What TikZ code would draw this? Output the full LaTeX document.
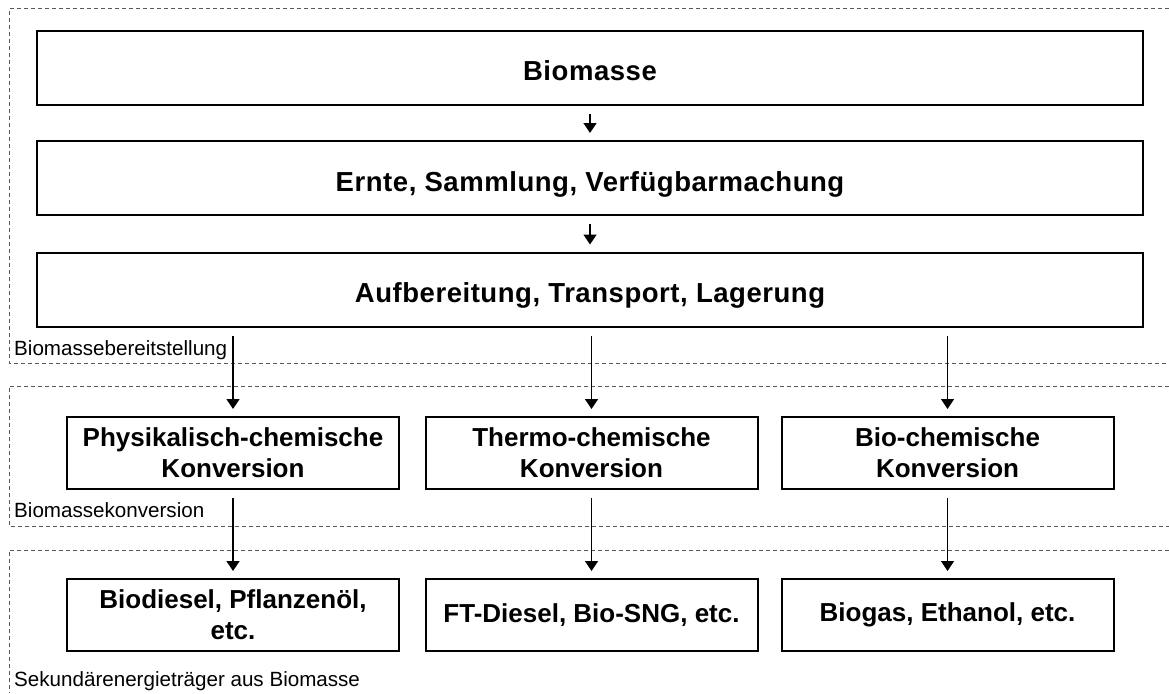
\documentclass[tikz,border=0pt]{standalone}
\usepackage{fontspec}
\setmainfont{Liberation Sans}
\usetikzlibrary{arrows.meta}
\begin{document}
\begin{tikzpicture}[x=1pt,y=-1pt,
  wide/.style={draw,line width=2pt,minimum width=1106pt,minimum height=74pt,
    inner sep=0pt,align=center,text height=32pt,text depth=6pt,
    font=\fontsize{27.5}{32}\selectfont\bfseries\addfontfeature{LetterSpace=2}},
  small/.style={draw,line width=2pt,minimum width=332pt,minimum height=72pt,
    inner sep=0pt,align=center,font=\fontsize{26}{31}\selectfont\bfseries},
  flow/.style={line width=1.4pt,-{Triangle[width=13pt,length=10pt]},
    shorten <=8pt,shorten >=7pt},
  zone/.style={draw=black!65,line width=1pt,dash pattern=on 4pt off 3pt},
  zonelabel/.style={anchor=base west,inner sep=0pt,font=\fontsize{20.6}{24}\selectfont}]
\useasboundingbox (0,0) rectangle (1169,693);

% stage frames
\draw[zone] (1169,9) -- (9,9) -- (9,363) -- (1169,363);
\draw[zone] (1169,386) -- (9,386) -- (9,526) -- (1169,526);
\draw[zone] (1169,550) -- (9,550) -- (9,693);

\node[zonelabel] (l1) at (14,355) {Biomassebereitstellung};
\node[zonelabel] (l2) at (14,517) {Biomassekonversion};
\node[zonelabel] (l3) at (14,686) {Sekundärenergieträger aus Biomasse};

% supply chain
\node[wide] (bio) at (590,68) {Biomasse};
\node[wide] (ernte) at (590,178) {Ernte, Sammlung, Verfügbarmachung};
\node[wide] (aufb) at (590,289.5) {Aufbereitung, Transport, Lagerung};

% conversion routes
\node[small] (phys) at (233,453) {Physikalisch-chemische\\Konversion};
\node[small] (thermo) at (591.5,453) {Thermo-chemische\\Konversion};
\node[small] (biochem) at (947.5,453) {Bio-chemische\\Konversion};

% products
\node[small] (diesel) at (233,615) {Biodiesel, Pflanzenöl,\\etc.};
\node[small] (ft) at (591.5,615) {FT-Diesel, Bio-SNG, etc.};
\node[small] (gas) at (947.5,615) {Biogas, Ethanol, etc.};

\draw[flow] (bio) -- (ernte);
\draw[flow] (ernte) -- (aufb);
\draw[flow] (phys.north |- aufb.south) -- (phys.north);
\draw[flow] (thermo.north |- aufb.south) -- (thermo.north);
\draw[flow] (biochem.north |- aufb.south) -- (biochem.north);
\draw[flow] (phys) -- (diesel);
\draw[flow] (thermo) -- (ft);
\draw[flow] (biochem) -- (gas);
\end{tikzpicture}
\end{document}
